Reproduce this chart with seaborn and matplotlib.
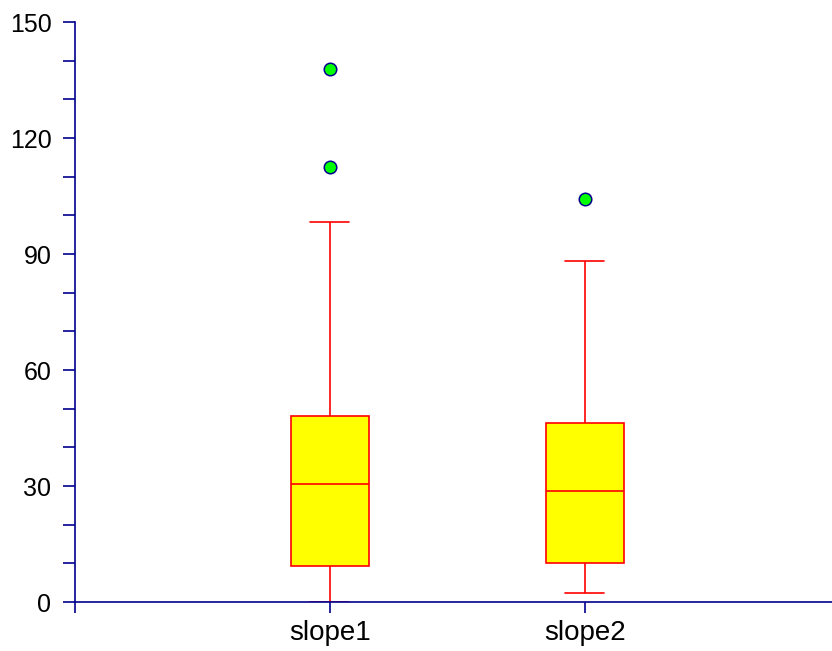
import pandas as pd
import matplotlib
matplotlib.use('Agg')
import matplotlib.pyplot as plt
import seaborn as sns
from matplotlib.ticker import MultipleLocator

# values (quartiles, whisker ends, outliers)
slope1 = [0.0, 4.0, 7.0, 9.3, 16.0, 24.0, 30.5, 37.0, 43.0, 48.1, 98.3, 112.5, 137.8]
slope2 = [2.4, 5.0, 8.0, 10.1, 15.0, 22.0, 28.7, 35.0, 41.0, 46.3, 70.0, 88.2, 104.2]
series_names = ['slope1', 'slope2']

df = pd.DataFrame({
    'series': ['slope1'] * len(slope1) + ['slope2'] * len(slope2),
    'value': slope1 + slope2,
})

sns.set_style('white')
plt.rcParams['font.family'] = ['Liberation Sans', 'DejaVu Sans']

navy = '#00008f'
fig = plt.figure(figsize=(8.32, 6.51), dpi=100)
ax = fig.add_axes([75 / 832, 1 - 602 / 651, 757 / 832, 580 / 651])

sns.boxplot(
    data=df, x='series', y='value', order=series_names, ax=ax,
    width=0.306, color='yellow', saturation=1,
    boxprops=dict(facecolor='#ffff00', edgecolor='red', linewidth=1.2),
    medianprops=dict(color='red', linewidth=1.2),
    whiskerprops=dict(color='red', linewidth=1.2),
    capprops=dict(color='red', linewidth=1.2),
    flierprops=dict(marker='o', markerfacecolor='#00ff00', markeredgecolor=navy,
                    markersize=9, markeredgewidth=1.1),
)

ax.set_xlim(-1, 1.97)
ax.set_ylim(0, 150)
ax.set_xticks([-1, 0, 1])
ax.set_xticklabels([''] + series_names)
ax.yaxis.set_major_locator(MultipleLocator(30))
ax.yaxis.set_minor_locator(MultipleLocator(10))
ax.set_xlabel('')
ax.set_ylabel('')

for side in ['top', 'right']:
    ax.spines[side].set_visible(False)
for side in ['left', 'bottom']:
    ax.spines[side].set_color(navy)
    ax.spines[side].set_linewidth(1.2)

ax.tick_params(axis='y', which='both', direction='out', length=9, width=1.2,
               color=navy, labelcolor='black', labelsize=18, pad=8, left=True)
ax.tick_params(axis='x', direction='out', length=8, width=1.2,
               color=navy, labelcolor='black', labelsize=20, pad=5, bottom=True)

fig.savefig('out.png', dpi=100)
